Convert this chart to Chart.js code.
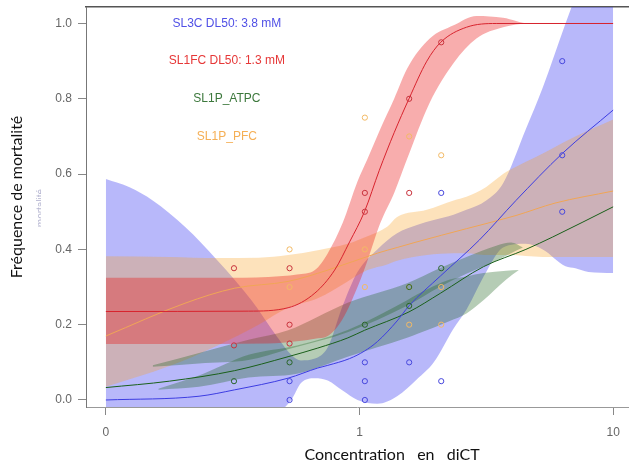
<!DOCTYPE html>
<html>
<head>
<meta charset="utf-8">
<script src="https://cdn.jsdelivr.net/npm/chart.js@4.4.0/dist/chart.umd.min.js"></script>
<style>
html,body{margin:0;padding:0;background:#fff;}
canvas{display:block;}
</style>
</head>
<body>
<canvas id="c" width="633" height="468"></canvas>
<script>
// ---------- axes ----------
const xTickValues = [0.1, 1, 10];
const xTickLabels = ['0', '1', '10'];
const yTickValues = [0, 0.2, 0.4, 0.6, 0.8, 1.0];
const xTitle = 'Concentration   en   diCT';
const yTitle = 'Fréquence de mortalité';
const yGhostTitle = 'mortalité';

// ---------- in-plot labels ----------
const seriesNames = ['SL3C DL50: 3.8 mM', 'SL1FC DL50: 1.3 mM', 'SL1P_ATPC', 'SL1P_PFC'];
const labelX = 0.3;
const labelYs = [1.0, 0.9, 0.8, 0.7];

// ---------- observed points ----------
const sl3cPtsX = [0.53, 0.53, 1.05, 1.05, 1.05, 1.57, 2.1, 2.1, 6.3, 6.3, 6.3];
const sl3cPtsY = [0.05, 0.0, 0.1, 0.05, 0.0, 0.1, 0.55, 0.05, 0.9, 0.65, 0.5];
const sl1fcPtsX = [0.32, 0.32, 0.53, 0.53, 0.53, 1.05, 1.05, 1.57, 1.57, 2.1];
const sl1fcPtsY = [0.35, 0.145, 0.35, 0.2, 0.15, 0.55, 0.5, 0.8, 0.55, 0.95];
const atpcPtsX = [0.32, 0.53, 1.05, 1.57, 1.57, 2.1];
const atpcPtsY = [0.05, 0.1, 0.2, 0.3, 0.25, 0.35];
const pfcPtsX = [0.53, 0.53, 1.05, 1.05, 1.05, 1.57, 1.57, 1.57, 2.1, 2.1, 2.1];
const pfcPtsY = [0.4, 0.3, 0.75, 0.4, 0.3, 0.7, 0.3, 0.2, 0.65, 0.3, 0.2];

// ---------- fitted curves ----------
const sl3cCurveX = [0.1, 0.233, 0.322, 0.523, 0.685, 0.75, 0.914, 1.046, 1.176, 1.407, 1.567, 2.09, 2.97, 4.14, 6.31, 10];
const sl3cCurveY = [0.0, 0.01, 0.027, 0.058, 0.085, 0.092, 0.11, 0.13, 0.155, 0.21, 0.25, 0.33, 0.425, 0.53, 0.655, 0.77];
const sl1fcCurveX = [0.1, 0.365, 0.523, 0.667, 0.798, 0.914, 1.046, 1.197, 1.37, 1.567, 1.843, 2.09, 2.64, 3.46, 10];
const sl1fcCurveY = [0.235, 0.236, 0.245, 0.284, 0.345, 0.42, 0.5, 0.61, 0.71, 0.8, 0.9, 0.95, 0.99, 1.0, 1.0];
const atpcCurveX = [0.1, 0.178, 0.322, 0.523, 0.685, 0.9, 1.046, 1.567, 2.09, 3.08, 4.53, 5.78, 10];
const atpcCurveY = [0.033, 0.05, 0.078, 0.115, 0.138, 0.165, 0.185, 0.234, 0.284, 0.354, 0.40, 0.433, 0.513];
const pfcCurveX = [0.1, 0.205, 0.322, 0.523, 0.75, 1.176, 1.407, 1.685, 2.64, 4.14, 5.9, 10];
const pfcCurveY = [0.17, 0.257, 0.297, 0.315, 0.345, 0.39, 0.405, 0.42, 0.455, 0.49, 0.523, 0.555];

// ---------- confidence bands ----------
const sl3cBandX = [0.1, 0.124, 0.153, 0.205, 0.276, 0.375, 0.474, 0.538, 0.588, 0.667, 0.75, 0.858, 0.982, 1.176, 1.407, 1.685, 1.963, 2.35, 2.64, 3.16, 3.68, 4.53, 5.28, 6.49, 7.1, 7.99, 10];
const sl3cBandLo = [-0.03, -0.03, -0.03, -0.03, -0.03, -0.03, -0.03, 0.0, 0.045, 0.058, 0.052, 0.025, 0.0, -0.01, 0.01, 0.055, 0.10, 0.19, 0.24, 0.34, 0.405, 0.415, 0.40, 0.355, 0.35, 0.34, 0.337];
const sl3cBandHi = [0.587, 0.565, 0.53, 0.46, 0.37, 0.265, 0.167, 0.12, 0.105, 0.11, 0.14, 0.25, 0.34, 0.40, 0.443, 0.465, 0.478, 0.492, 0.505, 0.53, 0.575, 0.72, 0.83, 1.0, 1.07, 1.15, 1.3];

const sl1fcBandX = [0.1, 0.276, 0.437, 0.567, 0.667, 0.75, 0.858, 0.982, 1.075, 1.208, 1.37, 1.54, 1.893, 2.35, 2.89, 3.68, 4.66, 10];
const sl1fcBandLo = [0.149, 0.149, 0.150, 0.156, 0.163, 0.170, 0.215, 0.30, 0.37, 0.47, 0.55, 0.64, 0.79, 0.895, 0.96, 0.99, 1.0, 1.0];
const sl1fcBandHi = [0.325, 0.325, 0.327, 0.333, 0.345, 0.39, 0.47, 0.58, 0.64, 0.72, 0.80, 0.88, 0.96, 0.995, 1.02, 1.015, 1.0, 1.0];

const pfcBandX = [0.1, 0.178, 0.276, 0.4, 0.523, 0.685, 0.898, 1.075, 1.286, 1.407, 1.843, 2.35, 2.64, 3.16, 3.68, 3.89, 5.28, 7.1, 10];
const pfcBandLo = [0.035, 0.09, 0.145, 0.20, 0.245, 0.27, 0.315, 0.345, 0.36, 0.37, 0.385, 0.39, 0.39, 0.385, 0.385, 0.385, 0.38, 0.38, 0.38];
const pfcBandHi = [0.382, 0.38, 0.377, 0.378, 0.385, 0.398, 0.415, 0.435, 0.46, 0.486, 0.505, 0.53, 0.54, 0.566, 0.60, 0.61, 0.655, 0.70, 0.745];

const atpcBandAX = [0.153, 0.233, 0.365, 0.523, 0.898, 1.54, 2.07, 2.64, 3.46, 3.96, 4.41];
const atpcBandALo = [0.088, 0.097, 0.106, 0.135, 0.18, 0.25, 0.30, 0.335, 0.37, 0.39, 0.405];
const atpcBandAHi = [0.092, 0.125, 0.16, 0.185, 0.258, 0.31, 0.35, 0.38, 0.41, 0.418, 0.405];
const atpcBandBX = [0.161, 0.233, 0.365, 0.567, 0.898, 1.54, 1.685, 2.27, 2.64, 3.08, 3.79, 4.25];
const atpcBandBLo = [0.027, 0.035, 0.06, 0.07, 0.115, 0.165, 0.175, 0.21, 0.23, 0.265, 0.32, 0.345];
const atpcBandBHi = [0.03, 0.065, 0.12, 0.145, 0.186, 0.265, 0.28, 0.32, 0.328, 0.337, 0.343, 0.345];

// ---------- styling ----------
const X_MIN = 0.08351, X_MAX = 11.445;
const Y_MIN = -0.0186, Y_MAX = 1.0438;
const col = {
  blue:   {line: 'rgb(60,60,225)',  pt: 'rgb(70,70,220)',  band: 'rgba(40,40,240,0.33)',  text: 'rgb(80,80,230)'},
  red:    {line: 'rgb(215,35,45)',  pt: 'rgb(200,50,60)',  band: 'rgba(235,20,20,0.35)',  text: 'rgb(230,55,55)'},
  green:  {line: 'rgb(25,95,25)',   pt: 'rgb(40,100,40)',  band: 'rgba(30,100,30,0.33)',  text: 'rgb(60,120,60)'},
  orange: {line: 'rgb(240,165,85)', pt: 'rgb(242,185,100)', band: 'rgba(250,160,30,0.30)', text: 'rgb(245,175,85)'}
};
const labelColors = [col.blue.text, col.red.text, col.green.text, col.orange.text];

const zip = (xs, ys) => xs.map((x, i) => ({x: x, y: ys[i]}));

function pointsDs(xs, ys, c) {
  return {data: zip(xs, ys), showLine: false, pointStyle: 'circle', pointRadius: 2.6,
    pointBorderWidth: 1, borderColor: c, pointBorderColor: c, backgroundColor: 'rgba(0,0,0,0)',
    pointBackgroundColor: 'rgba(0,0,0,0)'};
}
function curveDs(xs, ys, c) {
  return {data: zip(xs, ys), showLine: true, pointRadius: 0, borderWidth: 1, borderColor: c,
    cubicInterpolationMode: 'monotone', fill: false};
}
function bandDs(xs, lo, hi, c) {
  return [
    {data: zip(xs, lo), showLine: true, pointRadius: 0, borderWidth: 1, borderColor: 'rgba(0,0,0,0)',
      cubicInterpolationMode: 'monotone', fill: false},
    {data: zip(xs, hi), showLine: true, pointRadius: 0, borderWidth: 1, borderColor: 'rgba(0,0,0,0)',
      cubicInterpolationMode: 'monotone', fill: '-1', backgroundColor: c}
  ];
}

const datasets = [
  pointsDs(sl3cPtsX, sl3cPtsY, col.blue.pt),
  pointsDs(sl1fcPtsX, sl1fcPtsY, col.red.pt),
  pointsDs(atpcPtsX, atpcPtsY, col.green.pt),
  pointsDs(pfcPtsX, pfcPtsY, col.orange.pt),
  curveDs(sl1fcCurveX, sl1fcCurveY, col.red.line),
  curveDs(sl3cCurveX, sl3cCurveY, col.blue.line),
  curveDs(atpcCurveX, atpcCurveY, col.green.line),
  curveDs(pfcCurveX, pfcCurveY, col.orange.line),
  ...bandDs(sl1fcBandX, sl1fcBandLo, sl1fcBandHi, col.red.band),
  ...bandDs(atpcBandAX, atpcBandALo, atpcBandAHi, col.green.band),
  ...bandDs(atpcBandBX, atpcBandBLo, atpcBandBHi, col.green.band),
  ...bandDs(pfcBandX, pfcBandLo, pfcBandHi, col.orange.band),
  ...bandDs(sl3cBandX, sl3cBandLo, sl3cBandHi, col.blue.band)
];

const textPlugin = {
  id: 'texts',
  afterDraw(chart) {
    const {ctx, scales: {x, y}} = chart;
    ctx.save();
    ctx.textAlign = 'center';
    ctx.textBaseline = 'middle';
    ctx.font = '12px "Liberation Sans", Arial, sans-serif';
    seriesNames.forEach((t, i) => {
      ctx.fillStyle = labelColors[i];
      ctx.fillText(t, x.getPixelForValue(labelX), y.getPixelForValue(labelYs[i]));
    });
    ctx.fillStyle = '#111';
    ctx.font = '16px Lato, "Open Sans", sans-serif';
    ctx.fillText(xTitle, 392, 455);
    ctx.save();
    ctx.translate(17, 197);
    ctx.rotate(-Math.PI / 2);
    ctx.fillText(yTitle, 0, 0);
    ctx.restore();
    // faint, partially hidden original label
    ctx.save();
    ctx.beginPath();
    ctx.rect(36, 170, 5, 80);
    ctx.clip();
    ctx.translate(41, 208);
    ctx.rotate(-Math.PI / 2);
    ctx.font = '10px "Liberation Sans", Arial, sans-serif';
    ctx.fillStyle = 'rgba(70,70,140,0.4)';
    ctx.fillText(yGhostTitle, 0, 0);
    ctx.restore();
    ctx.restore();
  }
};

new Chart(document.getElementById('c'), {
  type: 'scatter',
  data: {datasets: datasets},
  options: {
    responsive: false,
    devicePixelRatio: 1,
    animation: false,
    layout: {padding: 0},
    plugins: {
      legend: {display: false},
      tooltip: {enabled: false},
      filler: {drawTime: 'beforeDatasetsDraw', propagate: false}
    },
    scales: {
      x: {
        type: 'logarithmic', position: 'bottom', min: X_MIN, max: X_MAX,
        afterBuildTicks: s => { s.ticks = xTickValues.map(v => ({value: v})); },
        afterFit: s => { s.height = 61; s.paddingLeft = 0; s.paddingRight = 0; },
        ticks: {
          callback: (v, i) => xTickLabels[i],
          autoSkip: false, maxRotation: 0, padding: 10,
          color: '#666', font: {family: '"Liberation Sans", Arial, sans-serif', size: 12}
        },
        grid: {display: true, drawOnChartArea: false, drawTicks: true, tickLength: 8, color: '#888'},
        border: {display: true, color: '#999', width: 1}
      },
      x2: {
        type: 'linear', position: 'top', min: 0, max: 1,
        afterFit: s => { s.height = 7; s.paddingLeft = 0; s.paddingRight = 0; },
        ticks: {display: false},
        grid: {display: false, drawTicks: false},
        border: {display: true, color: '#555', width: 1.5}
      },
      y: {
        type: 'linear', position: 'left', min: Y_MIN, max: Y_MAX,
        afterBuildTicks: s => { s.ticks = yTickValues.map(v => ({value: v})); },
        afterFit: s => { s.width = 86; s.paddingTop = 0; s.paddingBottom = 0; },
        ticks: {
          callback: v => Number(v).toFixed(1),
          padding: 6, color: '#666',
          font: {family: '"Liberation Sans", Arial, sans-serif', size: 12}
        },
        grid: {display: true, drawOnChartArea: false, drawTicks: true, tickLength: 8, color: '#888'},
        border: {display: true, color: '#777', width: 1}
      }
    }
  },
  plugins: [textPlugin]
});
</script>
</body>
</html>
